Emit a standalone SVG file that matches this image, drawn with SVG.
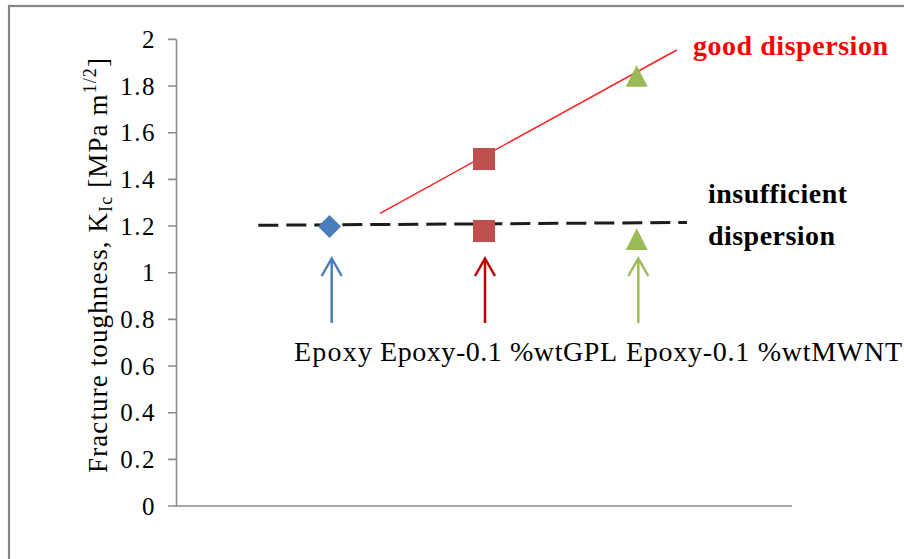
<svg xmlns="http://www.w3.org/2000/svg" width="904" height="559" viewBox="0 0 904 559" font-family="'Liberation Serif', 'DejaVu Serif', serif">
<defs>
<style>
text{font-family:'Liberation Serif','DejaVu Serif',serif;}
.frame{fill:#ffffff;stroke:#868686;stroke-width:2.2;}
.axis{stroke:#8c8c8c;stroke-width:1.6;fill:none;}
.tick{font-size:25px;fill:#000;text-anchor:end;letter-spacing:1.5px;}
.cat{font-size:28px;fill:#000;}
.note{font-size:28px;font-weight:bold;}
.arrow{fill:none;stroke-width:2.5;stroke-linecap:butt;}
</style>
</defs>
<rect x="0" y="0" width="904" height="559" fill="#ffffff"/>
<rect class="frame" x="9" y="6" width="910" height="570"/>
<g id="axes">
<path class="axis" d="M176.5,39.4 V506 H792"/>
<path class="axis" d="M168,39.4 H176.5 M168,86 H176.5 M168,132.7 H176.5 M168,179.4 H176.5 M168,226 H176.5 M168,272.7 H176.5 M168,319.4 H176.5 M168,366 H176.5 M168,412.7 H176.5 M168,459.4 H176.5 M168,506 H176.5"/>
<text class="tick" x="156" y="48">2</text>
<text class="tick" x="156" y="94.5">1.8</text>
<text class="tick" x="156" y="141">1.6</text>
<text class="tick" x="156" y="188">1.4</text>
<text class="tick" x="156" y="234.5">1.2</text>
<text class="tick" x="156" y="281">1</text>
<text class="tick" x="156" y="328">0.8</text>
<text class="tick" x="156" y="374.5">0.6</text>
<text class="tick" x="156" y="421">0.4</text>
<text class="tick" x="156" y="468">0.2</text>
<text class="tick" x="156" y="514.5">0</text>
<text transform="translate(107,265.5) rotate(-90)" text-anchor="middle" font-size="27" textLength="415" lengthAdjust="spacing">Fracture toughness, K<tspan font-size="18" dy="5">Ic</tspan><tspan dy="-5"> [MPa m</tspan><tspan font-size="18" dy="-11">1/2</tspan><tspan dy="11">]</tspan></text>
</g>
<g id="connectors">
<line x1="380" y1="213.3" x2="676.7" y2="50" stroke="#ff2020" stroke-width="1.5"/>
<line x1="258.3" y1="225.3" x2="687" y2="222.5" stroke="#1c1c1c" stroke-width="3" stroke-dasharray="20 8"/>
<g id="arrow-epoxy" class="arrow" stroke="#4a7ebb"><path d="M331.7,323 V259"/><path d="M321.7,276 L331.7,258.5 L341.7,276"/></g>
<g id="arrow-gpl" class="arrow" stroke="#c00000"><path d="M485,323 V259"/><path d="M475,276 L485,258.5 L495,276"/></g>
<g id="arrow-mwnt" class="arrow" stroke="#9bbb59"><path d="M638.3,323 V259"/><path d="M628.3,276 L638.3,258.5 L648.3,276"/></g>
</g>
<g id="point-epoxy"><path d="M329.5,215 L341,226.5 L329.5,238 L318,226.5 Z" fill="#4a7ebb"/></g>
<g id="point-gpl-good"><rect x="473" y="148" width="22" height="22" fill="#c0504d"/></g>
<g id="point-gpl-poor"><rect x="473" y="220" width="22" height="22" fill="#c0504d"/></g>
<g id="point-mwnt-good"><path d="M636.7,65 L647.7,86.7 L625.7,86.7 Z" fill="#9bbb59"/></g>
<g id="point-mwnt-poor"><path d="M636.7,228.3 L647.7,250 L625.7,250 Z" fill="#9bbb59"/></g>
<g id="label-good"><text class="note" x="693" y="55" fill="#ff0000" textLength="195" lengthAdjust="spacing">good dispersion</text></g>
<g id="label-insufficient"><text class="note" x="708" y="203" fill="#000" textLength="139" lengthAdjust="spacing">insufficient</text><text class="note" x="708" y="245" fill="#000" textLength="127" lengthAdjust="spacing">dispersion</text></g>
<g id="cat-epoxy"><text class="cat" x="294" y="361" textLength="78" lengthAdjust="spacing">Epoxy</text></g>
<g id="cat-gpl"><text class="cat" x="380" y="361" textLength="237" lengthAdjust="spacing">Epoxy-0.1 %wtGPL</text></g>
<g id="cat-mwnt"><text class="cat" x="626" y="361" textLength="276" lengthAdjust="spacing">Epoxy-0.1 %wtMWNT</text></g>
</svg>
